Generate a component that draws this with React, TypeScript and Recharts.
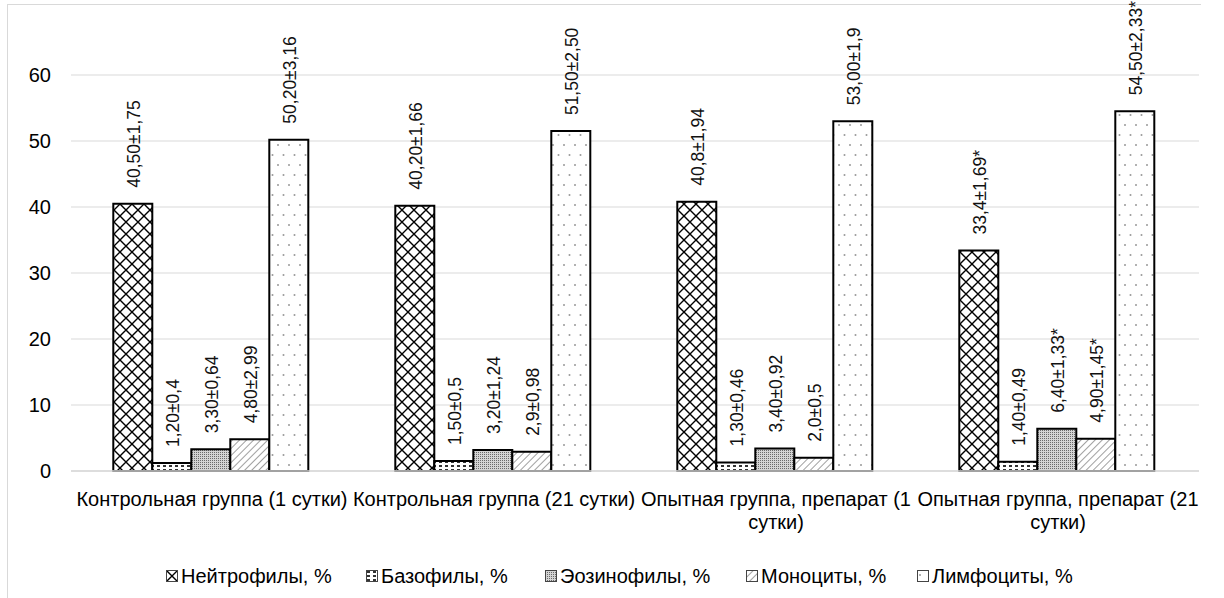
import React from "react";
import { BarChart, Bar, XAxis, YAxis, CartesianGrid, Legend, LabelList } from "recharts";

const categories = [
  "Контрольная группа (1 сутки)",
  "Контрольная группа (21 сутки)",
  "Опытная группа, препарат (1 сутки)",
  "Опытная группа, препарат (21 сутки)",
];

const neutrophils = [40.5, 40.2, 40.8, 33.4];
const basophils = [1.2, 1.5, 1.3, 1.4];
const eosinophils = [3.3, 3.2, 3.4, 6.4];
const monocytes = [4.8, 2.9, 2.0, 4.9];
const lymphocytes = [50.2, 51.5, 53.0, 54.5];

const neutLabels = ["40,50±1,75", "40,20±1,66", "40,8±1,94", "33,4±1,69*"];
const basoLabels = ["1,20±0,4", "1,50±0,5", "1,30±0,46", "1,40±0,49"];
const eosLabels = ["3,30±0,64", "3,20±1,24", "3,40±0,92", "6,40±1,33*"];
const monoLabels = ["4,80±2,99", "2,9±0,98", "2,0±0,5", "4,90±1,45*"];
const lymphLabels = ["50,20±3,16", "51,50±2,50", "53,00±1,9", "54,50±2,33*"];

const yTicks = [0, 10, 20, 30, 40, 50, 60];

const FONT = '"Liberation Sans", Arial, sans-serif';

const series = [
  { key: "neut", name: "Нейтрофилы, %", values: neutrophils, labels: neutLabels, pattern: "pNeut" },
  { key: "baso", name: "Базофилы, %", values: basophils, labels: basoLabels, pattern: "pBaso" },
  { key: "eos", name: "Эозинофилы, %", values: eosinophils, labels: eosLabels, pattern: "pEos" },
  { key: "mono", name: "Моноциты, %", values: monocytes, labels: monoLabels, pattern: "pMono" },
  { key: "lymph", name: "Лимфоциты, %", values: lymphocytes, labels: lymphLabels, pattern: "pLymph" },
];

// left edge of each legend entry (Excel spaces them unevenly)
const legendX = [166, 366, 545, 746, 917];

const data = categories.map((name, i) => {
  const row: any = { name };
  series.forEach((s) => {
    row[s.key] = s.values[i];
    row[s.key + "Lbl"] = s.labels[i];
  });
  return row;
});

// ============[ WORD WRAP ]============
let measureCtx: CanvasRenderingContext2D | null = null;
function wrapLines(text: string, maxWidth: number, font: string) {
  if (!measureCtx) measureCtx = document.createElement("canvas").getContext("2d");
  const ctx = measureCtx!;
  ctx.font = font;
  const words = text.split(" ");
  const lines: string[] = [];
  let cur = "";
  words.forEach((w) => {
    const test = cur ? cur + " " + w : w;
    if (cur && ctx.measureText(test).width > maxWidth) {
      lines.push(cur);
      cur = w;
    } else {
      cur = test;
    }
  });
  if (cur) lines.push(cur);
  return lines;
}

// pattern fills, prefix lets the legend swatches have their own copies
function Patterns({ prefix }: { prefix: string }) {
  return (
    <defs>
      <pattern id={prefix + "pNeut"} width="12" height="12" patternUnits="userSpaceOnUse">
        <rect width="12" height="12" fill="#fff" />
        <path d="M0,0 L12,12 M12,0 L0,12" stroke="#000" strokeWidth="1.4" />
      </pattern>
      <pattern id={prefix + "pBaso"} width="6" height="4" patternUnits="userSpaceOnUse">
        <rect width="6" height="4" fill="#fff" />
        <rect x="1" y="1" width="3" height="2" fill="#333" />
      </pattern>
      <pattern id={prefix + "pEos"} width="2" height="2" patternUnits="userSpaceOnUse">
        <rect width="2" height="2" fill="#d4d4d4" />
        <rect width="1" height="1" fill="#6a6a6a" />
      </pattern>
      <pattern id={prefix + "pMono"} width="5" height="5" patternUnits="userSpaceOnUse" patternTransform="rotate(45)">
        <rect width="5" height="5" fill="#fff" />
        <line x1="0" y1="0" x2="0" y2="5" stroke="#888" strokeWidth="1.6" />
      </pattern>
      <pattern id={prefix + "pLymph"} width="11" height="20" patternUnits="userSpaceOnUse">
        <rect width="11" height="20" fill="#fff" />
        <circle cx="3" cy="5" r="1" fill="#999" />
        <circle cx="8.5" cy="15" r="1" fill="#999" />
      </pattern>
    </defs>
  );
}

const BarLabel = (props: any) => {
  const { x, y, width, value } = props;
  const cx = x + width / 2 + 1;
  const cy = y - 16;
  return (
    <text
      x={cx}
      y={cy}
      transform={`rotate(-90, ${cx}, ${cy})`}
      textAnchor="start"
      dominantBaseline="central"
      fontSize={17.5}
      fontFamily={FONT}
      fill="#111"
    >
      {value}
    </text>
  );
};

const CategoryTick = (props: any) => {
  const { x, y, payload } = props;
  const lines = wrapLines(payload.value, 288, `20px ${FONT}`);
  return (
    <text x={x} y={y + 27} textAnchor="middle" fontSize={20} fontFamily={FONT} fill="#000">
      {lines.map((l, i) => (
        <tspan key={i} x={x} dy={i === 0 ? 0 : 23}>
          {l}
        </tspan>
      ))}
    </text>
  );
};

const ValueTick = (props: any) => {
  const { x, y, payload } = props;
  return (
    <text x={x + 11} y={y} textAnchor="end" dominantBaseline="central" fontSize={20} fontFamily={FONT} fill="#000">
      {payload.value}
    </text>
  );
};

const LegendContent = () => (
  <div style={{ position: "relative", height: 30, fontFamily: FONT, fontSize: 20, color: "#000" }}>
    {series.map((s, i) => (
      <div
        key={s.key}
        style={{
          position: "absolute",
          left: legendX[i],
          top: 0,
          height: 30,
          display: "flex",
          alignItems: "center",
          gap: 3,
          whiteSpace: "nowrap",
        }}
      >
        <svg width={12} height={12}>
          <Patterns prefix={"lg-" + s.key} />
          <rect x={0.5} y={0.5} width={11} height={11} fill={`url(#lg-${s.key}${s.pattern})`} stroke="#444" strokeWidth={1} />
        </svg>
        <span>{s.name}</span>
      </div>
    ))}
  </div>
);

export default function App() {
  return (
    <div style={{ position: "absolute", left: 0, top: 0, width: 1224, height: 598, background: "#fff" }}>
      <div
        style={{
          position: "absolute",
          left: 7,
          top: 4,
          width: 1193,
          height: 600,
          borderLeft: "1px solid #d9d9d9",
          borderTop: "1px solid #d9d9d9",
        }}
      />
      <BarChart
        width={1224}
        height={598}
        data={data}
        margin={{ top: 75, right: 25, left: 0, bottom: 7 }}
        barCategoryGap="15%"
        barGap={0}
      >
        <Patterns prefix="" />
        <CartesianGrid vertical={false} stroke="#d9d9d9" strokeWidth={1} />
        <XAxis
          dataKey="name"
          axisLine={{ stroke: "#d9d9d9", strokeWidth: 1.5 }}
          tickLine={false}
          interval={0}
          height={90}
          tick={<CategoryTick />}
        />
        <YAxis
          domain={[0, 60]}
          ticks={yTicks}
          width={71}
          axisLine={false}
          tickLine={false}
          tickMargin={25}
          tick={<ValueTick />}
        />
        <Legend
          verticalAlign="bottom"
          content={<LegendContent />}
          wrapperStyle={{ left: 0, width: 1224 }}
        />
        {series.map((s) => (
          <Bar
            key={s.key}
            dataKey={s.key}
            name={s.name}
            fill={`url(#${s.pattern})`}
            stroke="#000"
            strokeWidth={2}
            isAnimationActive={false}
          >
            <LabelList dataKey={s.key + "Lbl"} content={<BarLabel />} />
          </Bar>
        ))}
      </BarChart>
    </div>
  );
}
